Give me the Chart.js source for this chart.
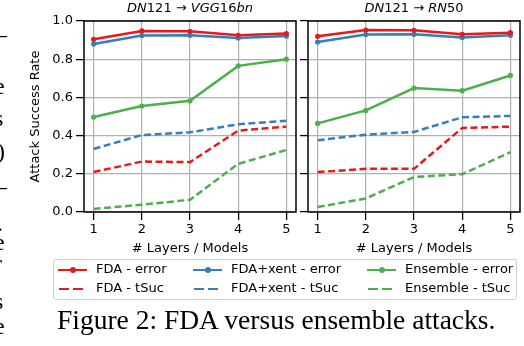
<!DOCTYPE html>
<html>
<head>
<meta charset="utf-8">
<script src="https://cdn.jsdelivr.net/npm/chart.js@4/dist/chart.umd.min.js"></script>
<style>
  body { margin: 0; background: #fff; width: 524px; height: 346px; overflow: hidden; position: relative; font-family: "DejaVu Sans", sans-serif; }
  canvas { position: absolute; top: 0; }
  #legend { position: absolute; left: 53px; top: 259px; width: 464px; height: 41px; border: 1px solid #cfcfcf; border-radius: 3px; box-sizing: border-box; }
  .item { position: absolute; font-size: 13px; line-height: 14px; color: #000; white-space: nowrap; }
  .sample { position: absolute; width: 29px; height: 0; }
  .seg { position: absolute; top: -1.25px; height: 2.5px; }
  .dot { position: absolute; left: 11.5px; top: -3px; width: 6px; height: 6px; border-radius: 50%; }
  #caption { position: absolute; left: 57px; top: 304px; font-family: "Liberation Serif", serif; font-size: 27.5px; line-height: 32px; color: #000; white-space: nowrap; }
  .frag { position: absolute; font-family: "Liberation Serif", serif; font-size: 24px; line-height: 24px; color: #000; }
</style>
</head>
<body>
<canvas id="left" width="300" height="260" style="left:0"></canvas>
<canvas id="right" width="224" height="260" style="left:300px"></canvas>
<div id="legend"></div>
<div id="caption">Figure 2: FDA versus ensemble attacks.</div>
<div id="frags"></div>
<script>
const layers = [1, 2, 3, 4, 5];

// DN121 -> VGG16bn
const vggFdaErr  = [0.904, 0.948, 0.946, 0.925, 0.934];
const vggXentErr = [0.880, 0.924, 0.925, 0.911, 0.922];
const vggEnsErr  = [0.497, 0.555, 0.582, 0.765, 0.800];
const vggFdaSuc  = [0.209, 0.264, 0.261, 0.426, 0.447];
const vggXentSuc = [0.330, 0.403, 0.417, 0.459, 0.478];
const vggEnsSuc  = [0.016, 0.038, 0.064, 0.252, 0.325];

// DN121 -> RN50
const rnFdaErr  = [0.920, 0.953, 0.951, 0.930, 0.939];
const rnXentErr = [0.890, 0.929, 0.930, 0.913, 0.925];
const rnEnsErr  = [0.464, 0.532, 0.649, 0.635, 0.715];
const rnFdaSuc  = [0.209, 0.226, 0.226, 0.440, 0.447];
const rnXentSuc = [0.376, 0.405, 0.419, 0.496, 0.503];
const rnEnsSuc  = [0.026, 0.071, 0.183, 0.198, 0.313];

const names = ["FDA", "FDA+xent", "Ensemble"];
const colors = ["#e41a1c", "#377eb8", "#4daf4a"];
const yTicks = [0, 0.2, 0.4, 0.6, 0.8, 1.0];

const toXY = (vals) => vals.map((v, i) => ({ x: layers[i], y: v }));

const make_datasets = (errs, sucs) => {
  const out = [];
  errs.forEach((vals, k) => {
    out.push({
      label: names[k] + " - error",
      data: toXY(vals),
      borderColor: colors[k],
      backgroundColor: colors[k],
      borderWidth: 2.5,
      pointRadius: 2.6,
      pointBorderWidth: 0,
      tension: 0
    });
  });
  sucs.forEach((vals, k) => {
    out.push({
      label: names[k] + " - tSuc",
      data: toXY(vals),
      borderColor: colors[k],
      borderWidth: 2.5,
      borderDash: [7, 3.5],
      pointRadius: 0,
      tension: 0
    });
  });
  return out;
};

// frame round the plot area, like the matplotlib spines
const framePlugin = {
  id: "frame",
  afterDatasetsDraw(chart) {
    const { ctx, chartArea: a } = chart;
    ctx.save();
    ctx.strokeStyle = "#000";
    ctx.lineWidth = 1.5;
    ctx.strokeRect(a.left, a.top, a.right - a.left, a.bottom - a.top);
    ctx.restore();
  }
};

// title with italic letters and upright digits
const titlePlugin = (parts) => ({
  id: "mathTitle",
  afterDraw(chart) {
    const { ctx, chartArea: a } = chart;
    ctx.save();
    const fontOf = (p) => (p.it ? "oblique " : "") + "13px 'DejaVu Sans'";
    let total = 0;
    parts.forEach(p => { ctx.font = fontOf(p); total += ctx.measureText(p.t).width; });
    let x = (a.left + a.right) / 2 - total / 2;
    ctx.fillStyle = "#000";
    ctx.textBaseline = "alphabetic";
    parts.forEach(p => {
      ctx.font = fontOf(p);
      ctx.fillText(p.t, x, 12);
      x += ctx.measureText(p.t).width;
    });
    ctx.restore();
  }
});

const make_chart = (id, datasets, showY, yWidth, titleParts) => {
  return new Chart(document.getElementById(id).getContext("2d"), {
    type: "line",
    data: { datasets: datasets },
    options: {
      responsive: false,
      animation: false,
      layout: { padding: { left: 0, right: 3, top: 21, bottom: 0 } },
      plugins: { legend: { display: false }, tooltip: { enabled: false } },
      scales: {
        x: {
          type: "linear",
          min: 0.8,
          max: 5.2,
          afterFit: (s) => { s.height = 48; },
          ticks: {
            stepSize: 1,
            includeBounds: false,
            padding: 2,
            color: "#000",
            font: { family: "DejaVu Sans", size: 13 },
            callback: (v) => v
          },
          grid: { color: "#b0b0b0", lineWidth: 1.2, tickLength: 8, tickColor: "#000", tickWidth: 1.3 },
          border: { display: false },
          title: {
            display: true,
            text: "# Layers / Models",
            color: "#000",
            font: { family: "DejaVu Sans", size: 13 },
            padding: { top: 0, bottom: 4 }
          }
        },
        y: {
          type: "linear",
          min: 0,
          max: 1,
          afterFit: (s) => { s.width = yWidth; },
          afterBuildTicks: (s) => { s.ticks = yTicks.map(v => ({ value: v })); },
          ticks: {
            display: showY,
            padding: 3,
            color: "#000",
            font: { family: "DejaVu Sans", size: 13 },
            callback: (v) => v.toFixed(1)
          },
          grid: { color: "#b0b0b0", lineWidth: 1.2, tickLength: 8, tickColor: "#000", tickWidth: 1.3 },
          border: { display: false },
          title: {
            display: showY,
            text: "Attack Success Rate",
            color: "#000",
            font: { family: "DejaVu Sans", size: 13 },
            padding: { top: 28, bottom: 0 }
          }
        }
      }
    },
    plugins: [framePlugin, titlePlugin(titleParts)]
  });
};

make_chart("left",
  make_datasets([vggFdaErr, vggXentErr, vggEnsErr], [vggFdaSuc, vggXentSuc, vggEnsSuc]),
  true, 84,
  [{ t: "DN", it: true }, { t: "121" }, { t: " \u2192 " }, { t: "VGG", it: true }, { t: "16" }, { t: "bn", it: true }]);

make_chart("right",
  make_datasets([rnFdaErr, rnXentErr, rnEnsErr], [rnFdaSuc, rnXentSuc, rnEnsSuc]),
  false, 8,
  [{ t: "DN", it: true }, { t: "121" }, { t: " \u2192 " }, { t: "RN", it: true }, { t: "50" }]);

// legend, three columns like matplotlib ncol=3
const legend = document.getElementById("legend");
const colSample = [4, 139, 313];
const colText = [42, 177, 351];
const rowY = [10, 29];
names.forEach((name, k) => {
  ["error", "tSuc"].forEach((kind, r) => {
    const s = document.createElement("div");
    s.className = "sample";
    s.style.left = colSample[k] + "px";
    s.style.top = rowY[r] + "px";
    if (kind === "error") {
      s.innerHTML = '<div class="seg" style="left:0;width:29px;background:' + colors[k] + '"></div>' +
        '<div class="dot" style="background:' + colors[k] + '"></div>';
    } else {
      s.innerHTML = '<div class="seg" style="left:1px;width:10px;background:' + colors[k] + '"></div>' +
        '<div class="seg" style="left:15px;width:10px;background:' + colors[k] + '"></div>';
    }
    legend.appendChild(s);
    const t = document.createElement("div");
    t.className = "item";
    t.style.left = colText[k] + "px";
    t.style.top = (rowY[r] - 8) + "px";
    t.textContent = name + " - " + kind;
    legend.appendChild(t);
  });
});

// clipped letters of the neighbouring text column at the left edge
const fragText = ["\u2014", "'", "e", "s", ")", "\u2014", "'", ".", "e", "r", "s", "e"];
const fragY = [22, 52, 74, 106, 139, 174, 197, 211, 230, 251, 289, 314];
const frags = document.getElementById("frags");
fragText.forEach((ch, i) => {
  const d = document.createElement("div");
  d.className = "frag";
  d.style.top = fragY[i] + "px";
  d.style.left = (ch === "." ? -3 : ch === "\u2014" ? -17 : ch === ")" ? -3 : -6) + "px";
  d.textContent = ch;
  frags.appendChild(d);
});
</script>
</body>
</html>
